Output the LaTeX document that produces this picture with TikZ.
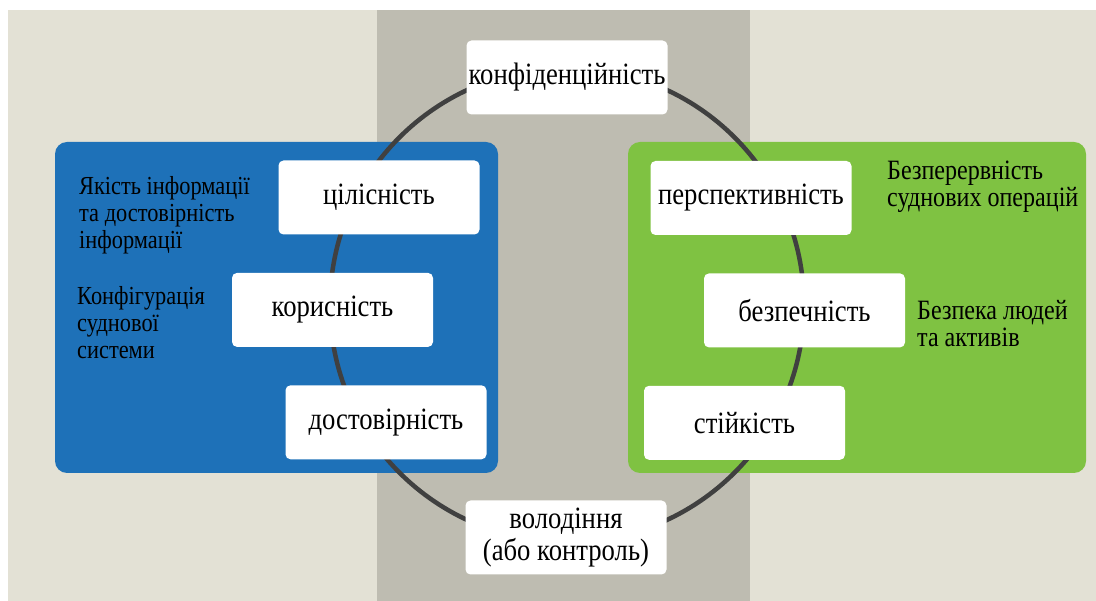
\documentclass[tikz,border=0pt]{standalone}
\usepackage{fontspec}
\setmainfont{Liberation Serif}[FakeStretch=0.86]
\usepackage{tikz}
\usetikzlibrary{positioning}

\definecolor{pagebg}{HTML}{E3E1D5}
\definecolor{bandgray}{HTML}{BEBCB1}
\definecolor{infoblue}{HTML}{1E71B8}
\definecolor{opsgreen}{HTML}{7FC242}
\definecolor{ringgray}{HTML}{404040}

\begin{document}
\begin{tikzpicture}[%
    ,x=1pt,y=-1pt
    ,node distance=38pt
    ,block/.style = {%
        ,fill=white
        ,rounded corners=5pt
        ,minimum height=74pt,minimum width=201pt
        ,inner sep=0pt
        ,align=center
        ,font=\fontsize{31}{32}\selectfont
        }
    ,note/.style = {%
        ,anchor=base west
        ,inner sep=0pt
        ,align=left
        ,font=\fontsize{#1}{27}\selectfont
        }
    ,note/.default=26
    ,panel/.style = {rounded corners=12pt}
    ]
\useasboundingbox (0,0) rectangle (1096,601);

% Background
\fill[pagebg]   (8,10) rectangle (1096,601);
\fill[bandgray] (377,10) rectangle (750,601);
\fill[infoblue, panel] (55,142) rectangle (498,473);
\fill[opsgreen, panel] (628,142) rectangle (1086,473);

% Ring behind the blocks
\coordinate (ring) at (567,305);
\draw[ringgray, line width=4.5pt] (ring) circle[radius=237pt];

\node (conf) [block] at (567,77.5) {конфіденційність};
\node (cil)  [block] at (379,197.5) {цілісність};
\node (kor)  [block, below=of cil, xshift=-46.5pt] {корисність};
\node (dost) [block, below=of kor, xshift=53.5pt] {достовірність};
\node (pers) [block] at (751,198) {перспективність};
\node (bezp) [block, below=of pers, xshift=53.5pt] {безпечність};
\node (stij) [block, below=of bezp, xshift=-60pt] {стійкість};
\node (vol)  [block] at (566,537.5) {володіння\\(або контроль)};

% Notes in the panels (anchored at the last line)
\node (yakist)  [note]    at (79,249)  {Якість інформації\\та достовірність\\інформації};
\node (konfig)  [note]    at (77,359)  {Конфігурація\\суднової\\системи};
\node (bezper)  [note=28] at (887,207) {Безперервність\\суднових операцій};
\node (bezpeka) [note=28] at (917,347) {Безпека людей\\та активів};
\end{tikzpicture}
\end{document}
